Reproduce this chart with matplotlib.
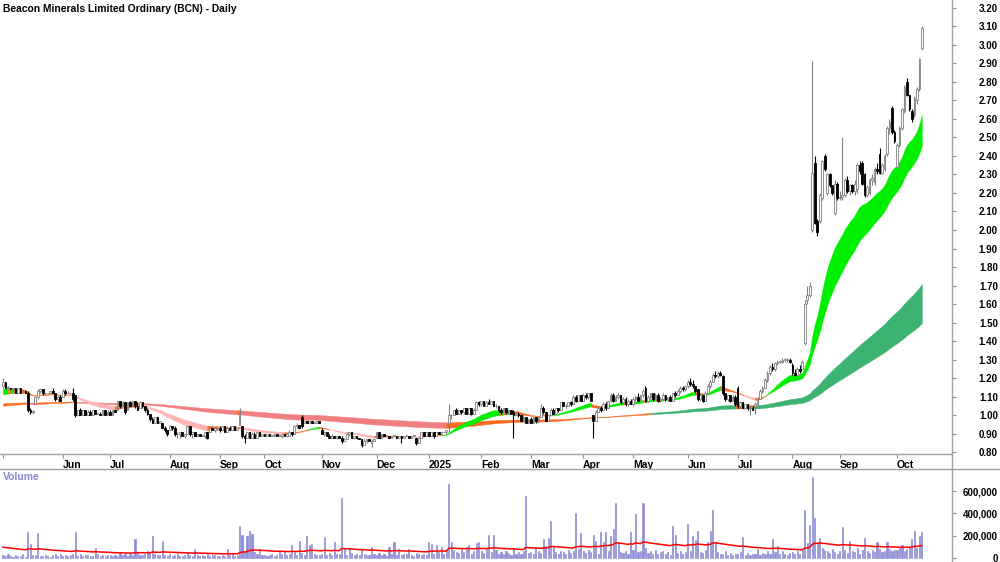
import numpy as np
import matplotlib.pyplot as plt
from matplotlib.lines import Line2D
from matplotlib.ticker import FuncFormatter

plt.rcParams['font.family'] = ['Liberation Sans', 'DejaVu Sans']

TITLE = "Beacon Minerals Limited Ordinary (BCN) - Daily"

# ---------------------------------------------------------------------------
# Daily candles (open, high, low, close), one small list per month
# ---------------------------------------------------------------------------
may_24 = [(1.16, 1.20, 1.15, 1.18), (1.18, 1.18, 1.15, 1.15), (1.15, 1.16, 1.14, 1.15),
          (1.15, 1.15, 1.14, 1.14), (1.14, 1.15, 1.13, 1.15), (1.15, 1.15, 1.12, 1.12),
          (1.12, 1.15, 1.12, 1.15), (1.15, 1.15, 1.12, 1.12), (1.13, 1.14, 1.12, 1.13),
          (1.13, 1.13, 1.12, 1.12), (1.12, 1.13, 1.02, 1.03), (1.03, 1.04, 1.01, 1.02),
          (1.02, 1.03, 1.01, 1.02), (1.06, 1.10, 1.06, 1.10), (1.10, 1.14, 1.09, 1.13),
          (1.13, 1.15, 1.12, 1.14), (1.14, 1.14, 1.11, 1.12), (1.12, 1.12, 1.11, 1.12),
          (1.12, 1.12, 1.12, 1.12), (1.12, 1.13, 1.12, 1.13), (1.13, 1.15, 1.12, 1.12),
          (1.12, 1.12, 1.08, 1.09), (1.09, 1.11, 1.08, 1.10), (1.10, 1.11, 1.08, 1.08)]
jun_24 = [(1.10, 1.14, 1.10, 1.13), (1.13, 1.14, 1.11, 1.12), (1.12, 1.13, 1.12, 1.12),
          (1.12, 1.12, 1.12, 1.12), (1.12, 1.15, 1.08, 1.09), (1.11, 1.11, 0.99, 1.00),
          (1.00, 1.03, 1.00, 1.03), (1.03, 1.04, 1.00, 1.00), (1.00, 1.03, 1.00, 1.03),
          (1.03, 1.03, 1.00, 1.00), (1.00, 1.03, 1.00, 1.02), (1.02, 1.03, 1.00, 1.00),
          (1.00, 1.03, 1.00, 1.03), (1.03, 1.03, 1.01, 1.01), (1.01, 1.01, 1.01, 1.01),
          (1.01, 1.02, 1.00, 1.00), (1.00, 1.03, 1.00, 1.03), (1.03, 1.03, 1.00, 1.00),
          (1.00, 1.03, 1.00, 1.02)]
jul_24 = [(1.02, 1.03, 1.00, 1.00), (1.00, 1.03, 1.00, 1.03), (1.03, 1.03, 1.02, 1.02),
          (1.03, 1.08, 1.03, 1.08), (1.08, 1.08, 1.04, 1.05), (1.05, 1.08, 1.05, 1.07),
          (1.07, 1.07, 1.01, 1.02), (1.03, 1.07, 1.03, 1.07), (1.07, 1.08, 1.05, 1.05),
          (1.05, 1.08, 1.05, 1.08), (1.08, 1.08, 1.04, 1.05), (1.05, 1.07, 1.03, 1.03),
          (1.04, 1.08, 1.04, 1.07), (1.07, 1.07, 1.04, 1.05), (1.05, 1.05, 1.02, 1.03),
          (1.03, 1.04, 1.00, 1.01), (1.01, 1.01, 0.97, 0.98), (0.98, 0.99, 0.96, 0.96),
          (0.96, 0.99, 0.96, 0.99), (0.99, 0.99, 0.96, 0.96), (0.96, 0.97, 0.96, 0.97),
          (0.96, 0.96, 0.93, 0.93), (0.93, 0.94, 0.91, 0.92), (0.92, 0.92, 0.89, 0.90)]
aug_24 = [(0.92, 0.95, 0.92, 0.94), (0.94, 0.94, 0.92, 0.93), (0.93, 0.94, 0.89, 0.90),
          (0.90, 0.91, 0.88, 0.90), (0.90, 0.91, 0.88, 0.91), (0.91, 0.91, 0.89, 0.89),
          (0.89, 0.90, 0.88, 0.90), (0.90, 0.95, 0.90, 0.94), (0.94, 0.94, 0.89, 0.90),
          (0.90, 0.91, 0.88, 0.91), (0.91, 0.91, 0.89, 0.89), (0.89, 0.90, 0.89, 0.90),
          (0.90, 0.90, 0.89, 0.89), (0.89, 0.89, 0.89, 0.89), (0.89, 0.91, 0.88, 0.91),
          (0.91, 0.91, 0.87, 0.88), (0.91, 0.94, 0.91, 0.93), (0.93, 0.93, 0.92, 0.92),
          (0.92, 0.93, 0.91, 0.93), (0.93, 0.94, 0.92, 0.93)]
sep_24 = [(0.93, 0.94, 0.91, 0.92), (0.92, 0.94, 0.92, 0.94), (0.94, 0.94, 0.91, 0.91),
          (0.91, 0.94, 0.91, 0.93), (0.93, 0.94, 0.92, 0.92), (0.92, 0.94, 0.92, 0.94),
          (0.94, 0.94, 0.92, 0.92), (0.92, 0.93, 0.92, 0.93), (0.95, 1.04, 0.95, 1.01),
          (0.94, 0.94, 0.88, 0.89), (0.89, 0.90, 0.85, 0.88), (0.88, 0.91, 0.88, 0.91),
          (0.91, 0.91, 0.88, 0.88), (0.88, 0.91, 0.88, 0.90), (0.90, 0.91, 0.88, 0.88),
          (0.88, 0.91, 0.88, 0.91), (0.91, 0.91, 0.89, 0.89), (0.89, 0.90, 0.89, 0.90)]
oct_24 = [(0.90, 0.90, 0.89, 0.89), (0.89, 0.90, 0.89, 0.90), (0.90, 0.90, 0.89, 0.89),
          (0.89, 0.89, 0.89, 0.89), (0.89, 0.90, 0.89, 0.90), (0.90, 0.90, 0.89, 0.89),
          (0.89, 0.89, 0.89, 0.89), (0.89, 0.90, 0.88, 0.90), (0.90, 0.90, 0.89, 0.89),
          (0.89, 0.90, 0.89, 0.90), (0.89, 0.92, 0.89, 0.91), (0.91, 0.91, 0.89, 0.90),
          (0.90, 0.95, 0.90, 0.94), (0.94, 0.96, 0.93, 0.95), (0.95, 0.95, 0.93, 0.93),
          (0.99, 1.00, 0.93, 0.94), (0.96, 0.97, 0.96, 0.97), (0.97, 0.97, 0.96, 0.96),
          (0.96, 0.97, 0.96, 0.97), (0.97, 0.97, 0.96, 0.96), (0.96, 0.96, 0.96, 0.96),
          (0.96, 0.97, 0.96, 0.97), (0.97, 0.97, 0.96, 0.96)]
nov_24 = [(0.92, 0.93, 0.90, 0.90), (0.90, 0.91, 0.89, 0.91), (0.91, 0.91, 0.89, 0.89),
          (0.89, 0.90, 0.88, 0.88), (0.88, 0.90, 0.88, 0.89), (0.89, 0.89, 0.88, 0.88),
          (0.88, 0.89, 0.87, 0.89), (0.89, 0.89, 0.88, 0.88), (0.88, 0.89, 0.85, 0.86),
          (0.86, 0.88, 0.86, 0.87), (0.87, 0.90, 0.87, 0.90), (0.90, 0.91, 0.89, 0.91),
          (0.91, 0.91, 0.88, 0.88), (0.88, 0.89, 0.87, 0.89), (0.89, 0.89, 0.87, 0.88),
          (0.88, 0.88, 0.87, 0.87), (0.87, 0.87, 0.83, 0.84), (0.84, 0.87, 0.84, 0.86),
          (0.86, 0.87, 0.85, 0.87), (0.87, 0.87, 0.86, 0.86), (0.85, 0.87, 0.83, 0.86),
          (0.86, 0.87, 0.86, 0.87)]
dec_24 = [(0.88, 0.91, 0.88, 0.91), (0.91, 0.91, 0.88, 0.88), (0.88, 0.90, 0.88, 0.90),
          (0.90, 0.90, 0.89, 0.89), (0.89, 0.89, 0.89, 0.89), (0.89, 0.89, 0.88, 0.88),
          (0.88, 0.89, 0.88, 0.89), (0.89, 0.89, 0.89, 0.89), (0.89, 0.89, 0.88, 0.88),
          (0.88, 0.89, 0.88, 0.89), (0.89, 0.89, 0.85, 0.88), (0.88, 0.89, 0.88, 0.89),
          (0.89, 0.89, 0.89, 0.89), (0.89, 0.89, 0.88, 0.88), (0.88, 0.89, 0.88, 0.89),
          (0.89, 0.89, 0.89, 0.89), (0.88, 0.88, 0.84, 0.85), (0.85, 0.88, 0.85, 0.88),
          (0.88, 0.91, 0.88, 0.91), (0.91, 0.91, 0.89, 0.89), (0.89, 0.91, 0.89, 0.91)]
jan_25 = [(0.91, 0.91, 0.89, 0.89), (0.89, 0.91, 0.89, 0.91), (0.91, 0.91, 0.88, 0.89),
          (0.89, 0.91, 0.89, 0.91), (0.91, 0.91, 0.90, 0.90), (0.90, 0.91, 0.90, 0.91),
          (0.91, 0.91, 0.91, 0.91), (0.91, 0.92, 0.90, 0.92), (0.96, 1.06, 0.91, 1.00),
          (1.00, 1.01, 0.98, 1.00), (1.00, 1.03, 1.00, 1.03), (1.03, 1.04, 1.01, 1.01),
          (1.01, 1.03, 1.01, 1.03), (1.03, 1.03, 1.01, 1.02), (1.02, 1.04, 1.01, 1.04),
          (1.04, 1.04, 1.01, 1.01), (1.01, 1.04, 1.01, 1.04), (1.04, 1.04, 1.00, 1.01),
          (1.01, 1.04, 1.01, 1.03), (1.03, 1.08, 1.03, 1.07), (1.07, 1.08, 1.05, 1.06)]
feb_25 = [(1.06, 1.08, 1.05, 1.08), (1.08, 1.08, 1.05, 1.05), (1.05, 1.08, 1.05, 1.07),
          (1.07, 1.09, 1.06, 1.06), (1.06, 1.08, 1.06, 1.08), (1.08, 1.08, 1.05, 1.05),
          (1.05, 1.06, 1.04, 1.05), (1.05, 1.05, 1.02, 1.03), (1.03, 1.04, 1.01, 1.02),
          (1.02, 1.04, 1.02, 1.04), (1.04, 1.04, 1.01, 1.02), (1.02, 1.03, 1.01, 1.03),
          (1.03, 1.03, 1.01, 1.01), (1.02, 1.03, 0.88, 1.00), (1.00, 1.02, 1.00, 1.01),
          (1.01, 1.02, 0.99, 1.00), (1.00, 1.00, 0.97, 0.97), (0.97, 1.00, 0.97, 0.99),
          (0.99, 0.99, 0.96, 0.96), (0.96, 0.98, 0.96, 0.98)]
mar_25 = [(0.98, 0.99, 0.96, 0.96), (0.96, 0.99, 0.96, 0.99), (0.99, 0.99, 0.96, 0.97),
          (0.97, 0.99, 0.96, 0.99), (0.99, 1.06, 0.99, 1.04), (1.04, 1.05, 1.01, 1.02),
          (1.02, 1.02, 0.97, 0.97), (0.97, 1.00, 0.97, 1.00), (1.00, 1.04, 1.00, 1.03),
          (1.03, 1.04, 1.01, 1.01), (1.01, 1.04, 1.01, 1.04), (1.04, 1.04, 1.02, 1.03),
          (1.03, 1.07, 1.03, 1.07), (1.07, 1.07, 1.05, 1.05), (1.05, 1.06, 1.04, 1.05),
          (1.05, 1.07, 1.05, 1.07), (1.07, 1.08, 1.05, 1.06), (1.06, 1.11, 1.06, 1.10),
          (1.10, 1.11, 1.07, 1.08), (1.08, 1.11, 1.08, 1.11), (1.11, 1.11, 1.08, 1.08)]
apr_25 = [(1.08, 1.12, 1.08, 1.11), (1.11, 1.12, 1.09, 1.10), (1.10, 1.12, 1.09, 1.12),
          (1.12, 1.12, 1.08, 1.08), (1.00, 1.00, 0.88, 0.97), (0.97, 1.03, 0.97, 1.02),
          (1.02, 1.05, 1.02, 1.04), (1.04, 1.05, 1.02, 1.03), (1.03, 1.07, 1.03, 1.06),
          (1.06, 1.07, 1.03, 1.04), (1.04, 1.08, 1.04, 1.08), (1.08, 1.12, 1.08, 1.11),
          (1.11, 1.12, 1.07, 1.08), (1.08, 1.11, 1.08, 1.10), (1.10, 1.12, 1.09, 1.11),
          (1.11, 1.11, 1.06, 1.07), (1.07, 1.10, 1.06, 1.09), (1.09, 1.10, 1.05, 1.06),
          (1.06, 1.09, 1.05, 1.08), (1.08, 1.09, 1.06, 1.06)]
may_25 = [(1.06, 1.10, 1.05, 1.09), (1.09, 1.11, 1.08, 1.10), (1.10, 1.12, 1.08, 1.08),
          (1.08, 1.11, 1.08, 1.11), (1.11, 1.14, 1.10, 1.13), (1.15, 1.16, 1.07, 1.08),
          (1.08, 1.11, 1.07, 1.10), (1.10, 1.12, 1.09, 1.12), (1.12, 1.12, 1.08, 1.09),
          (1.09, 1.12, 1.09, 1.11), (1.11, 1.12, 1.07, 1.08), (1.08, 1.10, 1.07, 1.09),
          (1.09, 1.12, 1.08, 1.11), (1.11, 1.11, 1.08, 1.09), (1.09, 1.10, 1.08, 1.10),
          (1.10, 1.11, 1.08, 1.08), (1.08, 1.12, 1.08, 1.12), (1.12, 1.13, 1.10, 1.11),
          (1.11, 1.14, 1.11, 1.13), (1.13, 1.16, 1.12, 1.15), (1.15, 1.16, 1.13, 1.14),
          (1.14, 1.16, 1.13, 1.16)]
jun_25 = [(1.16, 1.19, 1.15, 1.18), (1.18, 1.20, 1.16, 1.17), (1.17, 1.19, 1.15, 1.16),
          (1.16, 1.16, 1.12, 1.13), (1.14, 1.14, 1.08, 1.09), (1.09, 1.12, 1.08, 1.11),
          (1.11, 1.11, 1.07, 1.08), (1.08, 1.13, 1.08, 1.12), (1.12, 1.17, 1.12, 1.16),
          (1.16, 1.19, 1.15, 1.18), (1.18, 1.23, 1.18, 1.22), (1.22, 1.24, 1.20, 1.21),
          (1.21, 1.24, 1.20, 1.23), (1.23, 1.24, 1.21, 1.22), (1.21, 1.22, 1.11, 1.12),
          (1.12, 1.12, 1.08, 1.09), (1.09, 1.11, 1.08, 1.11), (1.11, 1.11, 1.07, 1.08),
          (1.08, 1.11, 1.08, 1.10), (1.10, 1.11, 1.05, 1.06)]
jul_25 = [(1.15, 1.16, 1.04, 1.05), (1.05, 1.08, 1.04, 1.07), (1.07, 1.07, 1.04, 1.04),
          (1.04, 1.06, 1.04, 1.06), (1.06, 1.06, 1.03, 1.04), (1.04, 1.05, 1.00, 1.04),
          (1.04, 1.05, 1.03, 1.03), (1.05, 1.07, 1.01, 1.06), (1.06, 1.10, 1.05, 1.09),
          (1.09, 1.14, 1.09, 1.13), (1.13, 1.16, 1.12, 1.15), (1.15, 1.20, 1.15, 1.19),
          (1.19, 1.24, 1.18, 1.23), (1.23, 1.27, 1.22, 1.26), (1.26, 1.28, 1.24, 1.25),
          (1.25, 1.29, 1.24, 1.28), (1.28, 1.30, 1.27, 1.29), (1.29, 1.30, 1.28, 1.29),
          (1.29, 1.31, 1.28, 1.30), (1.30, 1.31, 1.29, 1.30), (1.30, 1.31, 1.29, 1.30),
          (1.30, 1.31, 1.28, 1.29)]
aug_25 = [(1.27, 1.28, 1.22, 1.23), (1.23, 1.25, 1.21, 1.22), (1.22, 1.26, 1.21, 1.25),
          (1.25, 1.27, 1.23, 1.24), (1.25, 1.30, 1.25, 1.29), (1.39, 1.62, 1.38, 1.60),
          (1.62, 1.70, 1.60, 1.65), (1.65, 1.72, 1.64, 1.70), (2.00, 2.91, 1.99, 2.31),
          (2.36, 2.40, 2.03, 2.04), (2.05, 2.06, 1.97, 1.99), (2.05, 2.20, 2.04, 2.19),
          (2.17, 2.38, 2.16, 2.37), (2.40, 2.41, 2.32, 2.33), (2.20, 2.31, 2.19, 2.30),
          (2.30, 2.31, 2.23, 2.24), (2.24, 2.24, 2.19, 2.20), (2.09, 2.27, 2.08, 2.25),
          (2.25, 2.26, 2.16, 2.17)]
sep_25 = [(2.17, 2.21, 2.16, 2.18), (2.18, 2.50, 2.16, 2.19), (2.19, 2.28, 2.18, 2.27),
          (2.27, 2.29, 2.20, 2.21), (2.21, 2.25, 2.19, 2.24), (2.24, 2.25, 2.20, 2.21),
          (2.21, 2.27, 2.19, 2.25), (2.22, 2.36, 2.20, 2.35), (2.35, 2.37, 2.30, 2.32),
          (2.36, 2.37, 2.24, 2.25), (2.30, 2.31, 2.18, 2.19), (2.19, 2.24, 2.18, 2.23),
          (2.20, 2.28, 2.19, 2.27), (2.27, 2.30, 2.24, 2.28), (2.26, 2.34, 2.24, 2.33),
          (2.33, 2.36, 2.30, 2.32), (2.41, 2.44, 2.30, 2.31), (2.31, 2.36, 2.30, 2.35),
          (2.33, 2.41, 2.32, 2.40), (2.41, 2.56, 2.40, 2.55), (2.55, 2.60, 2.52, 2.58),
          (2.66, 2.67, 2.52, 2.53), (2.53, 2.54, 2.47, 2.48)]
oct_25 = [(2.34, 2.47, 2.33, 2.46), (2.46, 2.56, 2.45, 2.55), (2.55, 2.66, 2.54, 2.65),
          (2.64, 2.78, 2.63, 2.77), (2.80, 2.82, 2.72, 2.73), (2.73, 2.73, 2.64, 2.65),
          (2.64, 2.65, 2.58, 2.60), (2.62, 2.72, 2.61, 2.71), (2.70, 2.77, 2.68, 2.76),
          (2.76, 2.93, 2.75, 2.92), (2.98, 3.10, 2.97, 3.09)]

# daily volume, thousands of shares
vol_may_24 = [30, 15, 40, 20, 10, 25, 15, 20, 35, 10, 236, 125, 30, 25, 224, 20, 15, 30,
              20, 10, 25, 40, 20, 35]
vol_jun_24 = [20, 30, 15, 25, 40, 232, 20, 35, 15, 30, 25, 20, 15, 90, 40, 20, 30, 15, 25]
vol_jul_24 = [25, 15, 30, 20, 45, 25, 35, 20, 40, 30, 170, 50, 30, 25, 40, 60, 45, 197,
              40, 25, 30, 152, 30, 20]
vol_aug_24 = [35, 20, 25, 40, 15, 20, 30, 45, 25, 20, 80, 30, 15, 25, 20, 35, 15, 25, 30, 20]
vol_sep_24 = [20, 30, 15, 80, 25, 35, 20, 30, 290, 206, 60, 197, 245, 215, 50, 40, 80, 30]
vol_oct_24 = [30, 20, 25, 40, 15, 30, 70, 35, 60, 25, 40, 113, 55, 30, 148, 45, 30, 193,
              120, 126, 40, 30, 25]
vol_nov_24 = [40, 188, 30, 45, 25, 143, 35, 40, 541, 90, 30, 90, 45, 25, 35, 30, 80, 40,
              25, 30, 97, 35]
vol_dec_24 = [30, 45, 25, 35, 20, 100, 40, 143, 30, 85, 25, 35, 40, 80, 30, 20, 45, 35,
              25, 40, 30]
vol_jan_25 = [143, 126, 40, 115, 50, 100, 35, 60, 663, 143, 70, 50, 45, 80, 55, 100, 113,
              40, 60, 130, 143]
vol_feb_25 = [60, 45, 80, 206, 50, 206, 70, 40, 55, 35, 60, 45, 30, 90, 40, 50, 35, 60,
              556, 45]
vol_mar_25 = [50, 40, 90, 60, 45, 166, 110, 175, 331, 110, 55, 40, 65, 50, 35, 70, 45, 60,
              400, 80, 223]
vol_apr_25 = [60, 45, 70, 50, 206, 152, 40, 232, 140, 232, 65, 197, 260, 496, 140, 50, 45,
              60, 40, 235]
vol_may_25 = [70, 394, 55, 60, 491, 90, 45, 60, 40, 75, 35, 50, 65, 40, 55, 30, 285, 206,
              45, 60, 35, 50]
vol_jun_25 = [304, 60, 200, 165, 240, 50, 45, 70, 140, 246, 430, 140, 55, 40, 35, 60, 30,
              45, 25, 40]
vol_jul_25 = [35, 50, 188, 30, 45, 25, 40, 35, 80, 30, 45, 35, 60, 40, 170, 50, 110, 40,
              60, 35, 30, 45]
vol_aug_25 = [50, 40, 60, 35, 70, 430, 137, 296, 726, 356, 143, 180, 90, 70, 60, 45, 80,
              55, 40]
vol_sep_25 = [60, 281, 70, 45, 155, 65, 50, 90, 40, 75, 180, 60, 45, 70, 55, 140, 80, 50,
              65, 140, 85, 60, 75]
vol_oct_25 = [70, 90, 120, 60, 85, 100, 170, 246, 90, 193, 235]

month_labels = ["", "Jun", "Jul", "Aug", "Sep", "Oct", "Nov", "Dec", "2025", "Feb",
                "Mar", "Apr", "May", "Jun", "Jul", "Aug", "Sep", "Oct"]
month_candles = [may_24, jun_24, jul_24, aug_24, sep_24, oct_24, nov_24, dec_24, jan_25,
                 feb_25, mar_25, apr_25, may_25, jun_25, jul_25, aug_25, sep_25, oct_25]
month_volume = [vol_may_24, vol_jun_24, vol_jul_24, vol_aug_24, vol_sep_24, vol_oct_24,
                vol_nov_24, vol_dec_24, vol_jan_25, vol_feb_25, vol_mar_25, vol_apr_25,
                vol_may_25, vol_jun_25, vol_jul_25, vol_aug_25, vol_sep_25, vol_oct_25]

# moving-average ribbons (EMA periods) and their starting levels
short_periods = [20, 22, 24, 26, 28, 31, 34]
long_periods = [150, 165, 180, 195, 210, 225, 240]
short_seed = (1.14, 1.11)
long_seed = (1.050, 1.064)
volume_ma_period = 50
volume_ma_seed = 100.0

# ---------------------------------------------------------------------------
ohlc = np.array([bar for month in month_candles for bar in month])
o, h, l, c = ohlc.T
vol = np.concatenate(month_volume) * 1000.0
idx = np.arange(len(c))
month_starts = np.cumsum([0] + [len(m) for m in month_candles[:-1]])


def ema(values, period, seed):
    a = 2.0 / (period + 1)
    out = np.empty(len(values))
    prev = seed
    for i, v in enumerate(values):
        prev += a * (v - prev)
        out[i] = prev
    return out


def ribbon(ax, periods, seeds, colors, zorder):
    """Fill between the fastest/slowest EMA; colour by order and direction."""
    start_vals = np.linspace(seeds[0], seeds[1], len(periods))
    arr = np.vstack([ema(c, p, s) for p, s in zip(periods, start_vals)])
    order = np.diff(arr, axis=0)
    prev = np.hstack([start_vals[:, None], arr[:, :-1]])
    slope = arr - prev
    bull = np.all(order < 0, axis=0) & np.all(slope > 0, axis=0)
    bear = np.all(order > 0, axis=0) & np.all(slope < 0, axis=0)
    state = np.where(bull, 1, np.where(bear, -1, 0))
    lo, hi = arr.min(axis=0), arr.max(axis=0)
    start = 0
    n = len(state)
    for i in range(1, n + 1):
        if i == n or state[i] != state[start]:
            seg = slice(max(start - 1, 0), i)
            col = colors[state[start]]
            ax.fill_between(idx[seg], lo[seg], hi[seg], color=col, lw=0.3, ec=col,
                            zorder=zorder)
            start = i


fig = plt.figure(figsize=(10, 5.62), dpi=100)
ax = fig.add_axes([0.0, 0.1922, 0.952, 0.8078])
vax = fig.add_axes([0.0, 0.0, 0.952, 0.1655])

# ribbons
ribbon(ax, long_periods, long_seed, {1: "#3cb371", -1: "#f27f7f", 0: "#ff6a1f"}, 1)
ribbon(ax, short_periods, short_seed, {1: "#00ee00", -1: "#ffb4b4", 0: "#ff6a1f"}, 2)

# candles
up = c >= o
body_lo = np.minimum(o, c)
body_h = np.maximum(np.abs(c - o), 0.002)
ax.vlines(idx[up], l[up], h[up], color="#808080", lw=0.8, zorder=3)
ax.vlines(idx[~up], l[~up], h[~up], color="black", lw=0.8, zorder=3)
ax.bar(idx[up], body_h[up], bottom=body_lo[up], width=0.7, color="white",
       edgecolor="#808080", lw=0.6, zorder=4)
ax.bar(idx[~up], body_h[~up], bottom=body_lo[~up], width=0.7, color="black",
       edgecolor="black", lw=0.6, zorder=4)

ax.set_xlim(-1.2, 381.1)
ax.set_ylim(0.7917, 3.2405)
ax.set_yticks(np.round(np.arange(0.8, 3.21, 0.1), 2))
ax.yaxis.set_major_formatter(FuncFormatter(lambda v, _: f"{v:.2f}"))
ax.yaxis.tick_right()
ax.set_xticks(month_starts)
ax.set_xticklabels(month_labels)
ax.tick_params(axis="y", length=3, width=0.8, color="#909090", pad=30, labelsize=7)
ax.tick_params(axis="x", length=3, width=0.8, color="#909090", pad=1, labelsize=7.5)
for lab in ax.get_xticklabels():
    lab.set_horizontalalignment("left")
    lab.set_fontweight("bold")
for lab in ax.get_yticklabels():
    lab.set_horizontalalignment("right")
    lab.set_fontweight("bold")
for side in ("left", "top", "right"):
    ax.spines[side].set_visible(False)
ax.spines["bottom"].set_color("#a0a0a0")
ax.spines["bottom"].set_linewidth(1.0)
ax.text(0.003, 0.992, TITLE, transform=ax.transAxes, fontsize=7.4,
        fontweight="bold", ha="left", va="top")

# volume
vma = ema(vol / 1000.0, volume_ma_period, volume_ma_seed) * 1000.0
vax.bar(idx, vol, width=0.45, color="#8c8cd8", edgecolor="#8080d0", lw=0.4, zorder=2)
vax.plot(idx, vma, color="#ff0000", lw=1.1, zorder=3)
vax.set_xlim(-1.2, 381.1)
vax.set_ylim(-35900, 798000)
vax.set_yticks([0, 200000, 400000, 600000])
vax.yaxis.set_major_formatter(FuncFormatter(lambda v, _: f"{v:,.0f}"))
vax.yaxis.tick_right()
vax.tick_params(axis="y", length=3, width=0.8, color="#909090", pad=30, labelsize=7)
for lab in vax.get_yticklabels():
    lab.set_horizontalalignment("right")
    lab.set_fontweight("bold")
vax.set_xticks([])
for side in ("left", "top", "right", "bottom"):
    vax.spines[side].set_visible(False)
vax.text(0.003, 0.97, "Volume", transform=vax.transAxes, fontsize=7.5,
         fontweight="bold", color="#8888cc", ha="left", va="top")

# frame lines
fig.add_artist(Line2D([0, 1], [0.1655, 0.1655], transform=fig.transFigure,
                      color="#a0a0a0", lw=1.0))
fig.add_artist(Line2D([0.952, 0.952], [0, 1], transform=fig.transFigure,
                      color="#a0a0a0", lw=1.0))

fig.savefig("out.png", dpi=100)
